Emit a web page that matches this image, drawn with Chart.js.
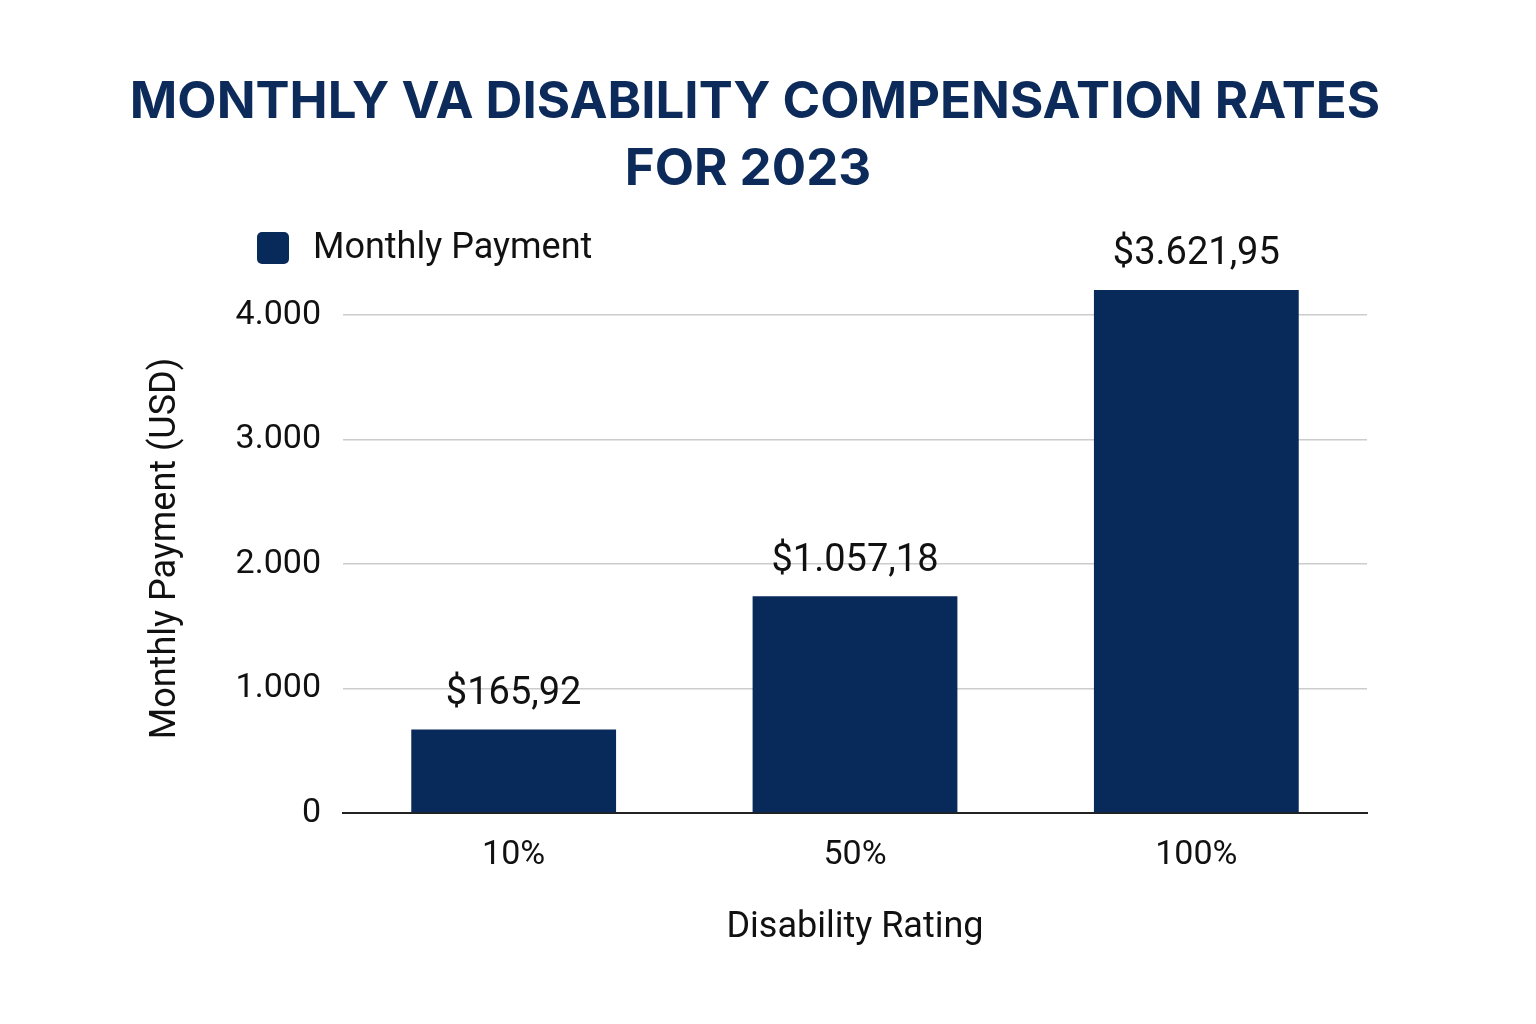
<!DOCTYPE html>
<html><head><meta charset="utf-8">
<script src="https://cdn.jsdelivr.net/npm/chart.js@4/dist/chart.umd.min.js"></script>
<style>html,body{margin:0;background:#fff}#wrap{width:1536px;height:1024px}</style>
</head><body><div id="wrap"><canvas id="c" width="1536" height="1024"></canvas></div>
<script>
const categories = ['10%', '50%', '100%'];
const barValues = [670, 1742, 4202];
const valueLabels = ['$165,92', '$1.057,18', '$3.621,95'];
const titleLines = ['MONTHLY VA DISABILITY COMPENSATION RATES', 'FOR 2023'];
const navy = '#072a5b';

const decor = {
  id: 'decor',
  afterDraw(chart) {
    const ctx = chart.ctx;
    ctx.save();
    ctx.fillStyle = '#0d2b5a';
    ctx.textAlign = 'center';
    ctx.textBaseline = 'middle';
    ctx.font = 'bold 51px Inter, "DejaVu Sans", sans-serif';
    ctx.fillText(titleLines[0], 755, 103);
    ctx.fillText(titleLines[1], 748, 170);
    // legend
    ctx.fillStyle = navy;
    ctx.beginPath();
    ctx.roundRect(257, 232, 32, 32, 5);
    ctx.fill();
    ctx.fillStyle = '#111';
    ctx.textAlign = 'left';
    ctx.font = '36px Roboto, sans-serif';
    ctx.fillText('Monthly Payment', 313, 249);
    // value labels
    const meta = chart.getDatasetMeta(0);
    ctx.textAlign = 'center';
    ctx.textBaseline = 'bottom';
    ctx.font = '38px Roboto, sans-serif';
    meta.data.forEach((bar, i) => {
      ctx.fillText(valueLabels[i], bar.x, bar.y - 16);
    });
    ctx.restore();
  }
};

new Chart(document.getElementById('c'), {
  type: 'bar',
  data: {
    labels: categories,
    datasets: [{ label: 'Monthly Payment', data: barValues, backgroundColor: navy, categoryPercentage: 0.6, barPercentage: 1 }]
  },
  plugins: [decor],
  options: {
    responsive: false,
    animation: false,
    layout: { padding: { top: 284, left: 140, right: 169, bottom: 70 } },
    plugins: { legend: { display: false }, title: { display: false }, tooltip: { enabled: false } },
    scales: {
      x: {
        afterFit(s) { s.height = 1024 - 813 - 70; },
        grid: { display: false, drawTicks: false },
        border: { color: '#222', width: 2 },
        ticks: { color: '#111', font: { size: 34, family: 'Roboto' }, padding: 22 },
        title: { display: true, text: 'Disability Rating', color: '#111', font: { size: 36, family: 'Roboto' }, padding: { top: 22 } }
      },
      y: {
        min: 0, max: 4250,
        afterFit(s) { s.width = 343 - 140; },
        grid: { color: c => (c.tick && c.tick.value % 1000 === 0 && c.tick.value > 0) ? '#cccccc' : 'rgba(0,0,0,0)', lineWidth: 1.5, drawTicks: false },
        border: { display: false },
        ticks: { stepSize: 250, autoSkip: false, color: '#111', padding: 22, font: { size: 34, family: 'Roboto' },
          callback: v => v % 1000 === 0 ? v.toLocaleString('de-DE') : '' },
        title: { display: true, text: 'Monthly Payment (USD)', color: '#111', font: { size: 36, family: 'Roboto' }, padding: { bottom: 30 } }
      }
    }
  }
});
</script></body></html>
